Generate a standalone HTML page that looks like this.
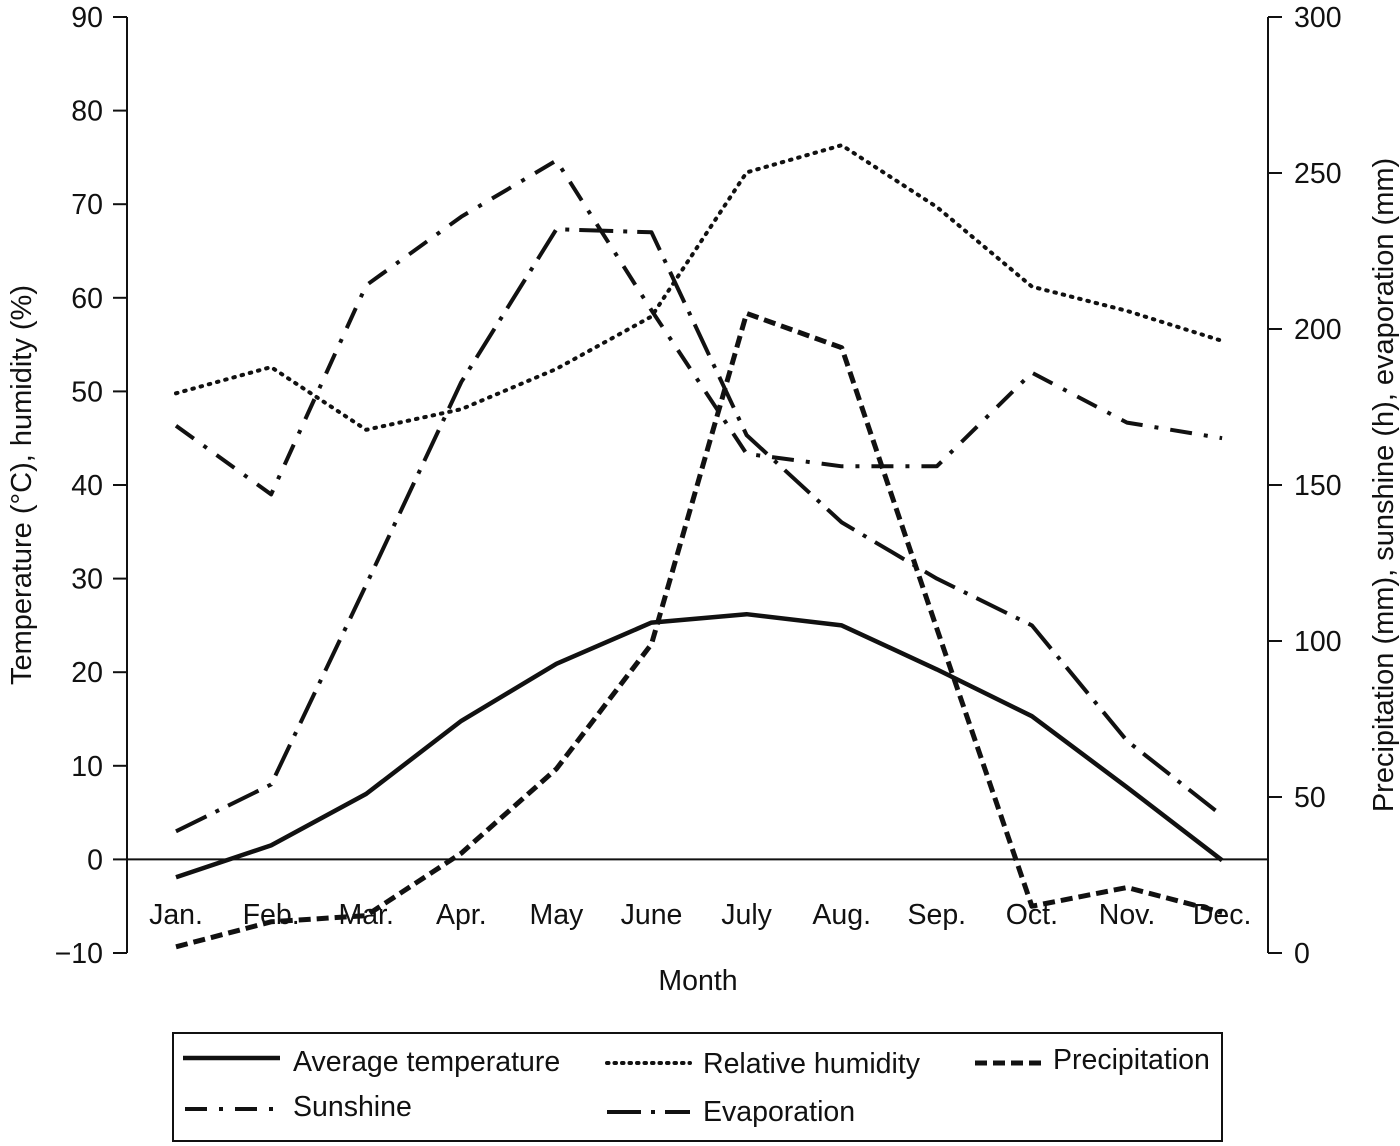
<!DOCTYPE html>
<html><head><meta charset="utf-8"><style>
html,body{margin:0;padding:0;background:#fff;}
svg{display:block;font-family:"Liberation Sans",sans-serif;}
</style></head><body>
<svg id="chart" width="1400" height="1146" viewBox="0 0 1400 1146" xmlns="http://www.w3.org/2000/svg">
<g id="axes"></g><g id="series"></g>
<g>
<rect x="173" y="1033" width="1049" height="108" fill="none" stroke="#111" stroke-width="2"/>
<line x1="183" y1="1058" x2="280" y2="1058" stroke="#111" stroke-width="4.5"/>
<text x="293" y="1071" font-size="28.5" fill="#111">Average temperature</text>
<line x1="607" y1="1063" x2="690" y2="1063" stroke="#111" stroke-width="4" stroke-dasharray="1.5 6" stroke-linecap="round"/>
<text x="703" y="1073" font-size="28.5" fill="#111">Relative humidity</text>
<line x1="975" y1="1063" x2="1042" y2="1063" stroke="#111" stroke-width="5" stroke-dasharray="12 6"/>
<text x="1053" y="1069" font-size="28.5" fill="#111">Precipitation</text>
<line x1="185" y1="1109" x2="280" y2="1109" stroke="#111" stroke-width="4" stroke-dasharray="22 12 4 12"/>
<text x="293" y="1116" font-size="28.5" fill="#111">Sunshine</text>
<line x1="607" y1="1112" x2="690" y2="1112" stroke="#111" stroke-width="4" stroke-dasharray="34 10 4 10"/>
<text x="703" y="1121" font-size="28.5" fill="#111">Evaporation</text>
</g>
</svg>
<script>
const months=["Jan.","Feb.","Mar.","Apr.","May","June","July","Aug.","Sep.","Oct.","Nov.","Dec."];
const leftTicks=[90,80,70,60,50,40,30,20,10,0,-10];
const rightTicks=[300,250,200,150,100,50,0];
const temperature=[-1.9,1.5,7.0,14.8,20.9,25.3,26.2,25.0,20.3,15.3,7.7,-0.1];
const humidity=[49.8,52.6,45.9,48.1,52.4,58.0,73.4,76.3,69.7,61.2,58.6,55.4];
const precipitation=[2,10,12,32,59,99,205,194,104,15,21,13];
const sunshine=[169,147,214,236,254,206,160,156,156,186,170,165];
const evaporation=[39,54,118,183,232,231,166,138,120,105,68,44];

const NS="http://www.w3.org/2000/svg";
const X0=176,DX=95.1,YT=17,YB=953;
const xs=i=>X0+i*DX;
const yL=v=>YT+(90-v)/100*(YB-YT);
const yR=v=>YB-v/300*(YB-YT);
function mk(tag,attrs,parent){const e=document.createElementNS(NS,tag);for(const k in attrs)e.setAttribute(k,attrs[k]);parent.appendChild(e);return e;}
const axes=document.getElementById('axes'),ser=document.getElementById('series');

const la=mk('line',{x1:127,y1:YT,x2:127,y2:YB,stroke:'#111','stroke-width':2},axes);


const ra=mk('line',{x1:1268,y1:YT,x2:1268,y2:YB,stroke:'#111','stroke-width':2},axes);


const zl=mk('line',{x1:127,y1:yL(0),x2:1268,y2:yL(0),stroke:'#111','stroke-width':2},axes);



leftTicks.forEach(v=>{
 const y=yL(v);
 mk('line',{x1:113,y1:y,x2:127,y2:y,stroke:'#111','stroke-width':2},axes);
 const t=mk('text',{x:103,y:y+10,'text-anchor':'end','font-size':28.5,fill:'#111'},axes);
 t.textContent=v<0?'\u2212'+(-v):String(v);
 
 
});
rightTicks.forEach(v=>{
 const y=yR(v);
 mk('line',{x1:1268,y1:y,x2:1282,y2:y,stroke:'#111','stroke-width':2},axes);
 const t=mk('text',{x:1294,y:y+10,'font-size':28.5,fill:'#111'},axes);
 t.textContent=String(v);
 
 
});
months.forEach((m,i)=>{
 const t=mk('text',{x:xs(i),y:924,'text-anchor':'middle','font-size':28.5,fill:'#111'},axes);
 t.textContent=m;
 
 
});
const xt=mk('text',{x:698,y:990,'text-anchor':'middle','font-size':28.5,fill:'#111'},axes);
xt.textContent='Month';


const lt=mk('text',{x:0,y:0,'text-anchor':'middle','font-size':29,fill:'#111',transform:'translate(31,485) rotate(-90)'},axes);
lt.textContent='Temperature (\u00B0C), humidity (%)';


const rt=mk('text',{x:0,y:0,'text-anchor':'middle','font-size':29,fill:'#111',transform:'translate(1393,485) rotate(-90)'},axes);
rt.textContent='Precipitation (mm), sunshine (h), evaporation (mm)';



function line(data,yf,style,name){
 const d=data.map((v,i)=>(i?'L':'M')+xs(i).toFixed(1)+','+yf(v).toFixed(1)).join(' ');
 const p=mk('path',Object.assign({d:d,fill:'none',stroke:'#111','stroke-linejoin':'round'},style),ser);
 
 
}
line(humidity,yL,{'stroke-width':4,'stroke-dasharray':'1.5 7','stroke-linecap':'round'},'humidity-line');
line(sunshine,yR,{'stroke-width':4,'stroke-dasharray':'22 12 4 12'},'sunshine-line');
line(evaporation,yR,{'stroke-width':4,'stroke-dasharray':'34 10 4 10'},'evaporation-line');
line(precipitation,yR,{'stroke-width':5,'stroke-dasharray':'12 6'},'precipitation-line');
line(temperature,yL,{'stroke-width':4.5},'temperature-line');
</script>
</body></html>
